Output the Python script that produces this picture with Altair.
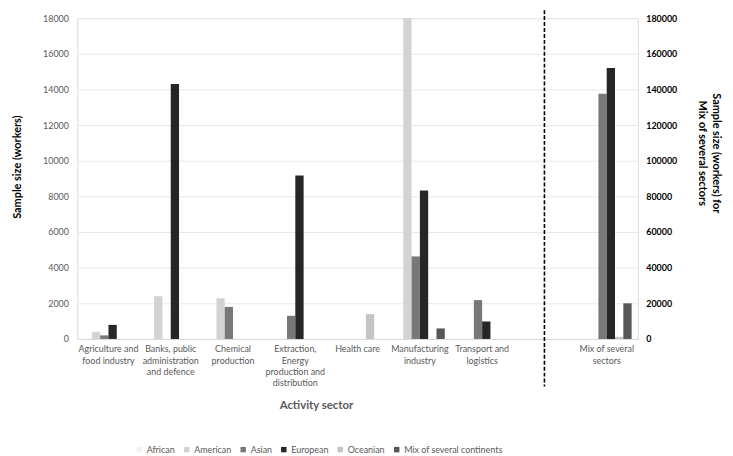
import altair as alt
import pandas as pd

sectors = [
    "Agriculture and\nfood industry",
    "Banks, public\nadministration\nand defence",
    "Chemical\nproduction",
    "Extraction,\nEnergy\nproduction and\ndistribution",
    "Health care",
    "Manufacturing\nindustry",
    "Transport and\nlogistics",
    "Mix of several\nsectors",
]
blank = " "
continents = ["African", "American", "Asian", "European", "Oceanian", "Mix of several continents"]
colors = ["#f2f2f2", "#d3d3d3", "#787878", "#262626", "#c4c4c4", "#575757"]

african = [0, 0, 0, 0, 0, 0, 0, 0]
american = [400, 2400, 2280, 0, 0, 18000, 0, 0]
asian = [200, 0, 1800, 1300, 0, 4630, 2180, 137500]
european = [790, 14300, 0, 9170, 0, 8330, 980, 152000]
oceanian = [0, 0, 0, 0, 1390, 0, 0, 1200]
mix_continents = [0, 0, 0, 0, 0, 590, 0, 20000]

series = [african, american, asian, european, oceanian, mix_continents]
rows = []
for c, vals in zip(continents, series):
    for s, v in zip(sectors, vals):
        rows.append({"sector": s, "continent": c, "value": v,
                     "group": "mix" if s == sectors[-1] else "main"})
df = pd.DataFrame(rows)

x_domain = sectors[:-1] + [blank] + sectors[-1:]
FONT = "Lato"

x_enc = alt.X(
    "sector:N",
    sort=x_domain,
    scale=alt.Scale(domain=x_domain, paddingInner=0.2, paddingOuter=0.1),
    axis=alt.Axis(
        title="Activity sector",
        labelExpr="split(datum.label, '\\n')",
        labelAngle=0,
        labelFontSize=9,
        labelColor="#595959",
        labelLineHeight=11.5,
        labelPadding=6,
        labelOverlap=False,
        ticks=False,
        domainColor="#d9d9d9",
        titleFontSize=11.5,
        titleFontWeight="bold",
        titleColor="#595959",
        titleX=241,
        titleY=67,
        titleBaseline="middle",
    ),
)
xoff = alt.XOffset("continent:N", scale=alt.Scale(domain=continents), sort=continents)
color = alt.Color(
    "continent:N",
    sort=continents,
    scale=alt.Scale(domain=continents, range=colors),
    legend=alt.Legend(
        title=None,
        orient="none",
        direction="horizontal",
        legendX=58,
        legendY=431,
        symbolType="square",
        symbolSize=30,
        symbolStrokeWidth=0,
        labelFontSize=9,
        labelColor="#595959",
        columnPadding=7,
        labelOffset=3,
    ),
)

left = alt.Chart(df).transform_filter("datum.group == 'main'").mark_bar().encode(
    x=x_enc,
    xOffset=xoff,
    y=alt.Y(
        "value:Q",
        scale=alt.Scale(domain=[0, 18000]),
        axis=alt.Axis(
            title="Sample size (workers)",
            values=list(range(0, 18001, 2000)),
            format="d",
            grid=True,
            gridColor="#e8e8e8",
            domain=False,
            ticks=False,
            labelFontSize=9,
            labelColor="#595959",
            labelPadding=9,
            titleFontSize=11,
            titleFontWeight="bold",
            titleColor="#000000",
            titleX=-60,
            titleY=150,
            titleBaseline="middle",
        ),
    ),
    color=color,
)

right = alt.Chart(df).transform_filter("datum.group == 'mix'").mark_bar().encode(
    x=x_enc,
    xOffset=xoff,
    y=alt.Y(
        "value:Q",
        scale=alt.Scale(domain=[0, 180000]),
        axis=alt.Axis(
            orient="right",
            title=["Sample size (workers) for", "Mix of several sectors"],
            values=list(range(0, 180001, 20000)),
            format="d",
            grid=False,
            domain=False,
            ticks=False,
            labelFontSize=9,
            labelFontWeight="bold",
            labelColor="#000000",
            labelPadding=8,
            titleFontSize=11,
            titleFontWeight="bold",
            titleColor="#000000",
            titleAngle=90,
            titleX=78,
            titleY=136,
            titleBaseline="middle",
            titleLineHeight=14,
        ),
    ),
    color=color,
)

sep = alt.Chart(pd.DataFrame({"sector": [blank]})).mark_rule(
    color="#000000", strokeWidth=1.6, strokeDash=[4, 2]
).encode(
    x=alt.X("sector:N", bandPosition=0.5, scale=alt.Scale(domain=x_domain)),
    y=alt.value(-8),
    y2=alt.value(372),
)

chart = alt.layer(left, right, sep).resolve_scale(y="independent").properties(
    width=566,
    height=324,
    padding={"left": 70, "top": 8, "right": 88, "bottom": 116},
    autosize="none",
).configure_view(stroke=None).configure(font=FONT)

chart.save("out.html", embed_options={"renderer": "svg", "actions": False})
